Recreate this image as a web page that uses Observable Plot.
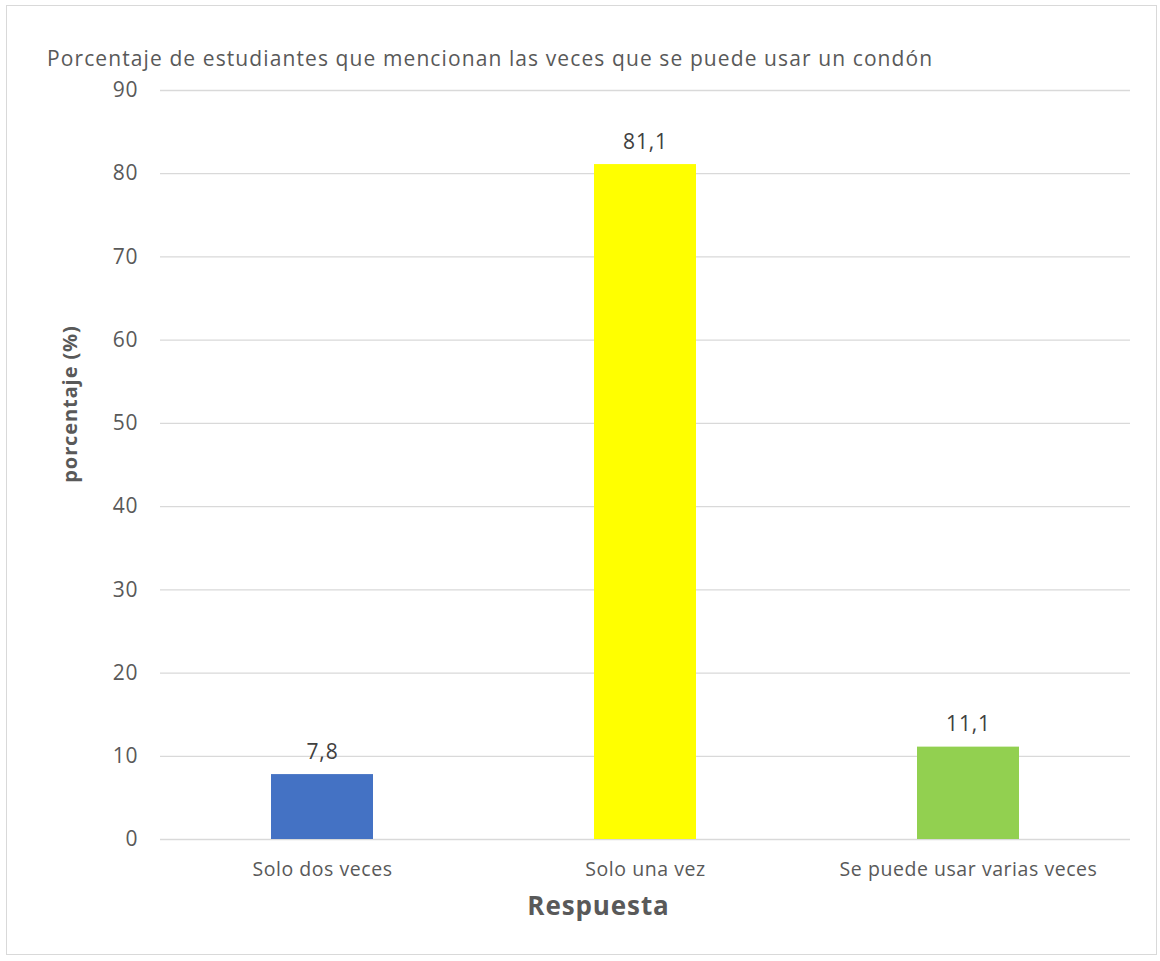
<!DOCTYPE html>
<html>
<head>
<meta charset="utf-8">
<script src="https://cdn.jsdelivr.net/npm/d3@7"></script>
<script src="https://cdn.jsdelivr.net/npm/@observablehq/plot@0.6"></script>
<style>
  html, body { margin: 0; padding: 0; background: #fff; }
  #frame { position: absolute; left: 6px; top: 5px; width: 1151px; height: 950px; border: 1px solid #d9d9d9; box-sizing: border-box; }
  #title { position: absolute; left: 47px; top: 44px; font-family: "Open Sans", sans-serif; font-size: 21px; letter-spacing: 1.1px; color: #595959; white-space: nowrap; }
  #chart { position: absolute; left: 0; top: 0; }
  .xax text { letter-spacing: 0.55px; }
</style>
</head>
<body>
<div id="frame"></div>
<div id="chart"></div>
<div id="title">Porcentaje de estudiantes que mencionan las veces que se puede usar un condón</div>
<script>
const categories = ["Solo dos veces", "Solo una vez", "Se puede usar varias veces"];
const values = [7.8, 81.1, 11.1];
const valueLabels = ["7,8", "81,1", "11,1"];
const colors = ["#4472C4", "#FFFF00", "#92D050"];
const yTicks = [0, 10, 20, 30, 40, 50, 60, 70, 80, 90];

const data = categories.map((c, i) => ({cat: c, val: values[i], label: valueLabels[i], color: colors[i]}));

const chart = Plot.plot({
  width: 1160,
  height: 961,
  marginLeft: 160,
  marginRight: 30,
  marginTop: 90,
  marginBottom: 122,
  style: { fontFamily: "Open Sans, sans-serif", fontSize: "21px", color: "#595959", background: "transparent", letterSpacing: "0.9px" },
  x: { domain: categories, paddingInner: 0.684, paddingOuter: 0.342, label: null },
  y: { domain: [0, 90], ticks: yTicks, label: null },
  marks: [
    Plot.gridY(yTicks, { stroke: "#d9d9d9", strokeOpacity: 1, strokeWidth: 1.3 }),
    Plot.barY(data, { x: "cat", y: "val", fill: "color" }),
    Plot.axisY(yTicks, { tickSize: 0, tickPadding: 22, fontSize: 21, fill: "#595959", label: null }),
    Plot.axisX({ tickSize: 0, tickPadding: 23, fontSize: 19.5, fill: "#595959", label: null, className: "xax" }),
    Plot.text(data, { x: "cat", y: "val", text: "label", dy: -16, lineAnchor: "bottom", fontSize: 21, fill: "#404040" }),
    Plot.text(["porcentaje (%)"], { frameAnchor: "left", dx: -90, dy: -61, rotate: -90, textAnchor: "middle", lineAnchor: "middle", fontSize: 20, fontWeight: "bold", fill: "#595959" }),
    Plot.text(["Respuesta"], { frameAnchor: "bottom", dx: -47, dy: 67, textAnchor: "middle", lineAnchor: "middle", fontSize: 26, fontWeight: "bold", fill: "#595959" })
  ]
});
document.getElementById("chart").appendChild(chart);
</script>
</body>
</html>
